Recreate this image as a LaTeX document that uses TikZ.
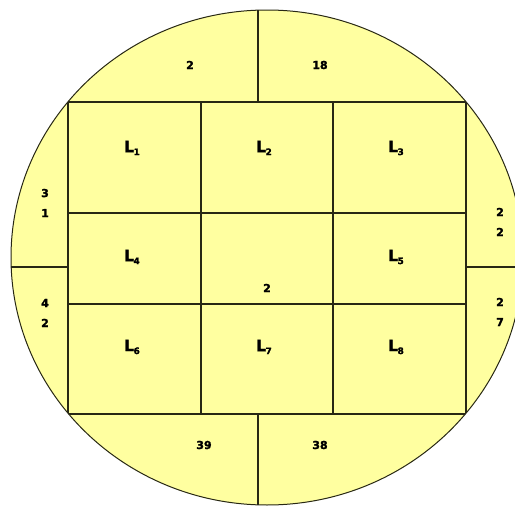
\documentclass[tikz,border=0pt]{standalone}
\usepackage{fontspec}
\setmainfont{DejaVu Sans}[BoldFeatures={FakeBold=1.6}]
\definecolor{wafer}{RGB}{255,255,160}
\definecolor{edge}{RGB}{40,40,20}
\newcommand\Lsub[1]{{\fontsize{15.5}{15.5}\selectfont L}\kern-0.5pt\raisebox{-3pt}{\fontsize{9}{9}\selectfont #1}}
\tikzset{
  num/.style={font=\bfseries\fontsize{11}{20}\selectfont, align=center, inner sep=0pt},
  lab/.style={font=\bfseries, inner sep=0pt},
  cut/.style={draw=edge, line width=1.1pt},
}
\begin{document}
\begin{tikzpicture}[x=1pt,y=-1pt]
\useasboundingbox (0,0) rectangle (515,506);
\begin{scope}
\clip (0,0) rectangle (515,506);
\fill[wafer] (267,257.5) ellipse [x radius=256, y radius=247.5];
\begin{scope}
\clip (267,257.5) ellipse [x radius=256, y radius=247.5];
\draw[cut] (68,102) rectangle (466,414);
\draw[cut] (201,102) -- (201,414);
\draw[cut] (333,102) -- (333,414);
\draw[cut] (68,213) -- (466,213);
\draw[cut] (68,304) -- (466,304);
\draw[cut] (258,102) -- (258,0);
\draw[cut] (258,414) -- (258,506);
\draw[cut] (68,267) -- (0,267);
\draw[cut] (466,267) -- (530,267);
\end{scope}
\draw[edge, line width=1pt] (267,257.5) ellipse [x radius=256, y radius=247.5];
\end{scope}
% labels
\node[num] (t2) at (190,65) {2};
\node[num] (t18) at (320,65) {18};
\node[num] (b39) at (204,445) {39};
\node[num] (b38) at (320,445) {38};
\node[num] (c2) at (267,288) {2};
\node[num] (s31) at (45,203) {3\\1};
\node[num] (s42) at (45,313) {4\\2};
\node[num] (s22) at (500,222) {2\\2};
\node[num] (s27) at (500,312) {2\\7};
\node[lab] (L1) at (132,148) {\Lsub{1}};
\node[lab] (L2) at (264,148) {\Lsub{2}};
\node[lab] (L3) at (396,148) {\Lsub{3}};
\node[lab] (L4) at (132,257) {\Lsub{4}};
\node[lab] (L5) at (396,257) {\Lsub{5}};
\node[lab] (L6) at (132,347) {\Lsub{6}};
\node[lab] (L7) at (264,347) {\Lsub{7}};
\node[lab] (L8) at (396,347) {\Lsub{8}};
\end{tikzpicture}
\end{document}
